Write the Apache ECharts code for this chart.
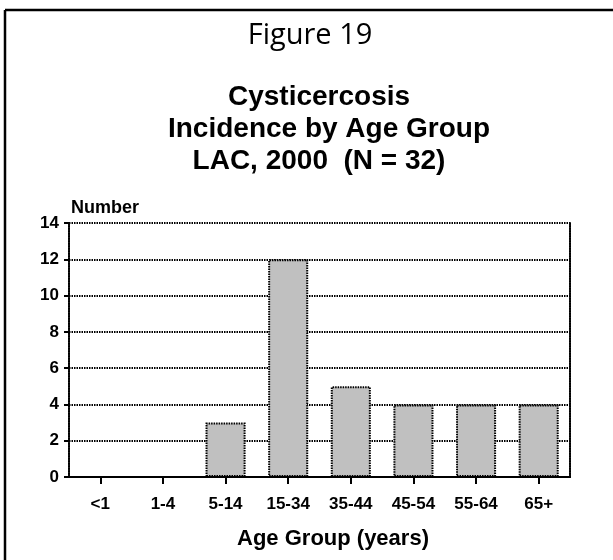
<!DOCTYPE html>
<html>
<head>
<meta charset="utf-8">
<script src="https://cdn.jsdelivr.net/npm/echarts@6/dist/echarts.min.js"></script>
<style>
  html, body { margin: 0; padding: 0; background: #fff; }
  #chart { width: 613px; height: 560px; }
</style>
</head>
<body>
<div id="chart"></div>
<script>
const ageGroups = ['<1', '1-4', '5-14', '15-34', '35-44', '45-54', '55-64', '65+']
const cases = [0, 0, 3, 12, 5, 4, 4, 4]
const titleLines = ['Cysticercosis', 'Incidence by Age Group', 'LAC, 2000  (N = 32)']

const font = "'Liberation Sans', Arial, sans-serif"
const dots = { color: '#000', width: 2, type: [1.5, 1] }

const chart = echarts.init(document.getElementById('chart'))
chart.setOption({
  backgroundColor: '#fff',
  animation: false,
  grid: { left: 69, right: 43, top: 223, bottom: 83, containLabel: false },
  graphic: [
    // frame (top + left only)
    { type: 'line', shape: { x1: 5, y1: 10, x2: 613, y2: 10 }, style: { stroke: '#000', lineWidth: 2.5 } },
    { type: 'line', shape: { x1: 5, y1: 10, x2: 5, y2: 560 }, style: { stroke: '#000', lineWidth: 2.5 } },
    {
      type: 'text', x: 310, y: 36,
      style: { text: 'Figure 19', font: "29px 'Open Sans', sans-serif", fill: '#000', align: 'center', verticalAlign: 'middle' },
    },
    ...titleLines.map((t, i) => ({
      type: 'text',
      x: [319, 329, 319][i],
      y: 97 + i * 32,
      style: { text: t, font: 'bold 28px ' + font, fill: '#000', align: 'center', verticalAlign: 'middle' },
    })),
  ],
  xAxis: [
    {
      type: 'category',
      data: ageGroups,
      name: 'Age Group (years)',
      nameLocation: 'middle',
      nameGap: 51,
      nameTextStyle: { fontFamily: font, fontWeight: 'bold', fontSize: 22, color: '#000', padding: [0, 0, 0, 27] },
      axisLine: { lineStyle: { color: '#000', width: 2 } },
      axisTick: { show: true, alignWithLabel: true, length: 7, lineStyle: { color: '#000', width: 2 } },
      axisLabel: { fontFamily: font, fontWeight: 'bold', fontSize: 17, color: '#000', margin: 19 },
      splitLine: { show: false },
    },
    {
      type: 'category',
      position: 'top',
      data: ageGroups,
      axisLine: { lineStyle: { color: '#000', width: 2 } },
      axisTick: { show: false },
      axisLabel: { show: false },
    },
  ],
  yAxis: [
    {
      type: 'value',
      min: 0,
      max: 14,
      interval: 2,
      name: 'Number',
      nameLocation: 'end',
      nameGap: 6,
      nameTextStyle: { fontFamily: font, fontWeight: 'bold', fontSize: 18, color: '#000', align: 'left', verticalAlign: 'bottom', padding: [0, 0, 0, 2] },
      axisLine: { show: true, lineStyle: dots },
      axisTick: { show: true, length: 5, lineStyle: { color: '#000', width: 2 } },
      axisLabel: { fontFamily: font, fontWeight: 'bold', fontSize: 17, color: '#000', margin: 10 },
      splitLine: { show: true, lineStyle: dots },
    },
    {
      type: 'value',
      position: 'right',
      min: 0,
      max: 14,
      interval: 2,
      axisLine: { show: true, lineStyle: dots },
      axisTick: { show: false },
      axisLabel: { show: false },
      splitLine: { show: false },
    },
  ],
  series: [
    {
      type: 'bar',
      data: cases,
      barWidth: '64%',
      itemStyle: { color: '#c0c0c0', borderColor: '#000', borderWidth: 2, borderType: [1.5, 1] },
    },
  ],
})
</script>
</body>
</html>
